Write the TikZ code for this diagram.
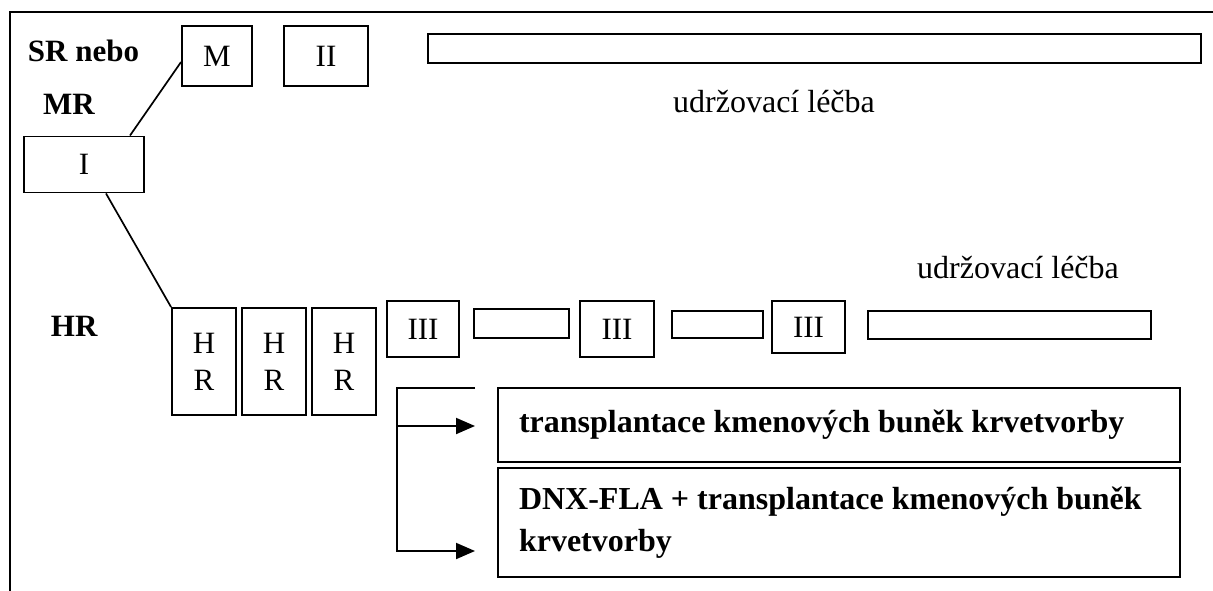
\documentclass[tikz,border=0pt]{standalone}
\usepackage{fontspec}
\setmainfont{Liberation Serif}
\usetikzlibrary{arrows.meta}
\begin{document}
\begin{tikzpicture}[x=1pt,y=-1pt,
 box/.style={draw, line width=1.9pt, inner sep=0pt, font=\fontsize{31}{37}\selectfont, align=center},
 bigbox/.style={draw, line width=1.9pt, inner ysep=0pt, inner xsep=21pt, text width=640pt, align=flush left, font=\bfseries\fontsize{32}{42}\selectfont},
 lbl/.style={font=\bfseries\fontsize{31}{37}\selectfont, inner sep=0pt, anchor=base west},
 txt/.style={font=\fontsize{32}{38}\selectfont, inner sep=0pt, anchor=base west},
 conn/.style={line width=1.7pt},
 arr/.style={line width=1.9pt, -{Triangle[length=19pt,width=16pt]}}
]
\useasboundingbox (0,0) rectangle (1213,591);
% frame
\draw[line width=1.8pt] (10,591) -- (10,12) -- (1213,12);

% labels
\node[lbl] (sr) at (27.7,62) {SR nebo};
\node[lbl] (mr) at (43,115) {MR};
\node[lbl] (hr) at (50.7,336) {HR};
\node[txt] (u1) at (673,113) {udržovací léčba};
\node[txt] (u2) at (917,278) {udržovací léčba};

% upper branch
\node[box, minimum width=70pt, minimum height=60pt] (M) at (217,56) {M};
\node[box, minimum width=84pt, minimum height=60pt] (II) at (326,56) {II};
\node[box, minimum width=773pt, minimum height=29pt] (L1) at (814.5,48.5) {};
\node[box, minimum width=120pt, minimum height=56pt] (I) at (84,164.5) {I};

% HR branch
\node[box, minimum width=64pt, minimum height=107pt] (HR1) at (204,361.5) {H\\R};
\node[box, minimum width=64pt, minimum height=107pt] (HR2) at (274,361.5) {H\\R};
\node[box, minimum width=64pt, minimum height=107pt] (HR3) at (344,361.5) {H\\R};
\node[box, minimum width=72pt, minimum height=56pt] (III1) at (423,329) {III};
\node[box, minimum width=95pt, minimum height=29pt] (S1) at (521.5,323.5) {};
\node[box, minimum width=74pt, minimum height=56pt] (III2) at (617,329) {III};
\node[box, minimum width=91pt, minimum height=27pt] (S2) at (717.5,324.5) {};
\node[box, minimum width=73pt, minimum height=52pt] (III3) at (808.5,327) {III};
\node[box, minimum width=283pt, minimum height=28pt] (S3) at (1009.5,325) {};

% transplant boxes
\node[bigbox, minimum height=74pt] (A) at (839,425) {transplantace kmenových buněk krvetvorby};
\node[bigbox, minimum height=109pt] (B) at (839,522.5) {DNX-FLA + transplantace kmenových buněk\\krvetvorby};

% connectors
\draw[conn] ([yshift=-6pt]M.west) -- ([xshift=46pt]I.north);
\draw[conn] ([xshift=22pt]I.south) -- (HR1.north west);

\coordinate (t1) at (475,388);
\coordinate (bt) at (397,388);
\coordinate (bm) at (397,426);
\coordinate (bb) at (397,551);
\coordinate (a1) at (475,426);
\coordinate (a2) at (475,551);
\draw[arr] (t1) -- (bt) -- (bb) -- (a2);
\draw[arr] (bm) -- (a1);
\end{tikzpicture}
\end{document}
